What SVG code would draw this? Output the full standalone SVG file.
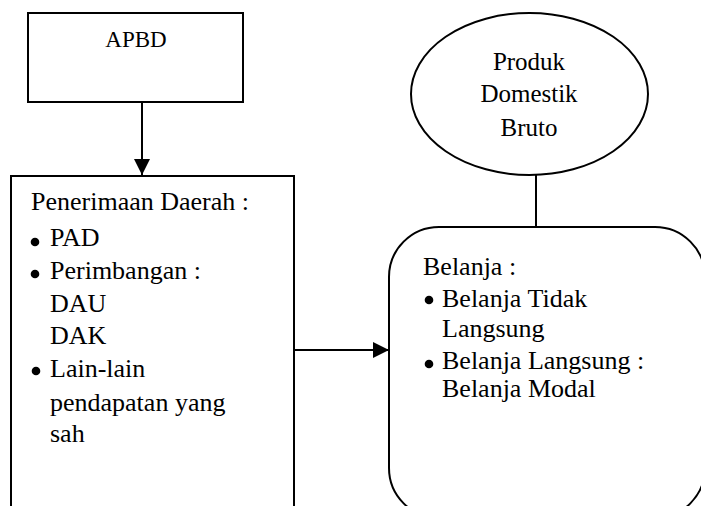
<svg xmlns="http://www.w3.org/2000/svg" width="701" height="506" viewBox="0 0 701 506">
<style>
.shape{fill:#fff;stroke:#000;stroke-width:2}
.conn{fill:none;stroke:#000;stroke-width:2}
text{font-family:"Liberation Serif","Times New Roman",serif;fill:#000;font-size:26px}
.c{text-anchor:middle}
.bul{fill:#000;stroke:none}
</style>
<defs>
<marker id="arr" viewBox="0 0 16 16" refX="16" refY="8" markerWidth="16" markerHeight="16" markerUnits="userSpaceOnUse" orient="auto">
<path d="M0,0 L16,8 L0,16 Z" fill="#000"/>
</marker>
</defs>
<rect width="701" height="506" fill="#fff"/>
<g id="connectors">
<line class="conn" x1="142" y1="102" x2="142" y2="175" marker-end="url(#arr)"/>
<line class="conn" x1="294" y1="350" x2="389" y2="350" marker-end="url(#arr)"/>
<line class="conn" x1="536" y1="175" x2="536" y2="227"/>
</g>
<g id="apbd">
<rect class="shape" x="28" y="13" width="215" height="89"/>
<text class="c" x="136" y="47" style="font-size:23px">APBD</text>
</g>
<g id="pdb">
<ellipse class="shape" cx="529.5" cy="94" rx="118.5" ry="81"/>
<text class="c" x="529" y="70" style="font-size:25px">Produk</text>
<text class="c" x="529" y="102" style="font-size:25px">Domestik</text>
<text class="c" x="529" y="136" style="font-size:25px">Bruto</text>
</g>
<g id="penerimaan">
<rect class="shape" x="11" y="176" width="283" height="345"/>
<text x="31" y="210">Penerimaan Daerah :</text>
<circle class="bul" cx="35" cy="242" r="4.3"/>
<text x="50" y="246">PAD</text>
<circle class="bul" cx="35" cy="274" r="4.3"/>
<text x="50" y="279">Perimbangan :</text>
<text x="50" y="312">DAU</text>
<text x="50" y="344">DAK</text>
<circle class="bul" cx="36" cy="371" r="4.3"/>
<text x="50" y="377">Lain-lain</text>
<text x="50" y="411">pendapatan yang</text>
<text x="50" y="442">sah</text>
</g>
<g id="belanja">
<rect class="shape" x="389" y="227" width="316" height="291" rx="50" ry="50"/>
<text x="423" y="275">Belanja :</text>
<circle class="bul" cx="429" cy="300" r="4.3"/>
<text x="442" y="307">Belanja Tidak</text>
<text x="442" y="337">Langsung</text>
<circle class="bul" cx="429" cy="364" r="4.3"/>
<text x="442" y="369">Belanja Langsung :</text>
<text x="442" y="397">Belanja Modal</text>
</g>
</svg>
